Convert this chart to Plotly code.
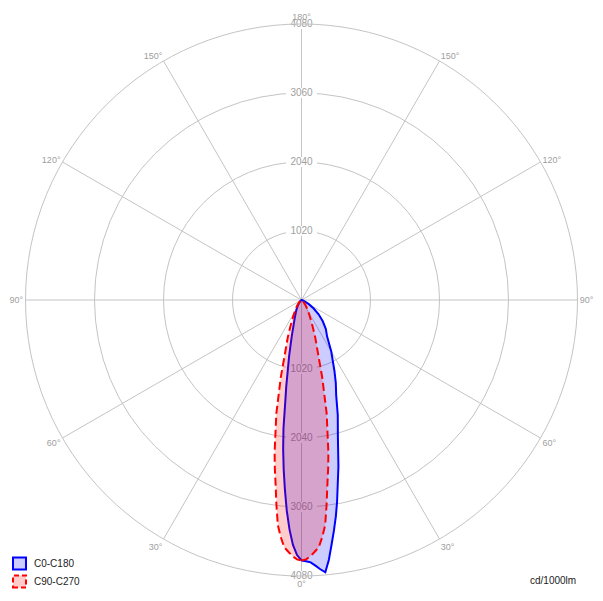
import plotly.graph_objects as go

# Gamma angles (degrees from nadir)
gamma = [0, 1, 2, 3, 4, 5, 6, 7, 8, 9, 10, 12.5, 15, 17.5, 20, 22.5, 25, 27.5, 30,
         35, 40, 45, 50, 55, 60, 65, 70, 75, 80, 85, 90]

# Luminous intensity, cd/1000lm
c0 = [3850, 3863, 3880, 3933, 3990, 4040, 3864, 3645, 3444, 3243, 3028, 2522, 2078, 1783,
      1500, 1325, 1150, 995, 880, 660, 560, 445, 330, 220, 130, 70, 30, 12, 5, 0, 0]
c180 = [3850, 3771, 3624, 3395, 3122, 2815, 2520, 2226, 1915, 1540, 1300, 842, 560, 390,
        300, 240, 195, 160, 130, 85, 50, 28, 12, 5, 0, 0, 0, 0, 0, 0, 0]
c90 = [3850, 3835, 3790, 3727, 3663, 3518, 3346, 3046, 2750, 2520, 2288, 1719, 1183, 790,
       600, 440, 330, 255, 200, 130, 85, 50, 25, 12, 5, 0, 0, 0, 0, 0, 0]
c270 = list(c90)

series_names = ["C0-C180", "C90-C270"]
radial_ticks = [1020, 2040, 3060, 4080]
angle_ticks = [0, 30, 60, 90, 120, 150, 180, 210, 240, 270, 300, 330]
angle_labels = ["0°", "30°", "60°", "90°", "120°", "150°", "180°",
                "150°", "120°", "90°", "60°", "30°"]

GRID = "#c4c4c4"
LABEL = "#a0a0a0"
FONT = "Liberation Sans"
BLUE, BLUE_FILL = "#0000ff", "rgba(0,0,255,0.2)"
RED, RED_FILL = "#ff0000", "rgba(255,0,0,0.2)"

OFF = 8  # page body margin of the browser
W, H = 603, 601
ML, MT = 25 - OFF, 23.5 - OFF
PW, PH = 553, 553
MR, MB = W - ML - PW, H - MT - PH


def px2paper(x, y):
    """screen pixel -> paper coordinates"""
    return (x - OFF - ML) / PW, (MT + PH - (y - OFF)) / PH


fig = go.Figure()

# radial value labels (behind the data fills), with white background boxes
lab_r = radial_ticks + radial_ticks
lab_t = [180] * len(radial_ticks) + [0] * len(radial_ticks)
fig.add_trace(go.Scatterpolar(
    r=lab_r, theta=lab_t, mode="markers+text",
    text=[str(v) for v in lab_r], textposition="middle center",
    textfont=dict(family=FONT, size=10, color=LABEL),
    marker=dict(symbol="line-ew", size=22, color="white",
                line=dict(width=10, color="white")),
    showlegend=False, hoverinfo="skip", cliponaxis=False,
))

theta_blue = gamma + [360 - g for g in reversed(gamma)]
r_blue = c0 + list(reversed(c180))
theta_red = gamma + [360 - g for g in reversed(gamma)]
r_red = c90 + list(reversed(c270))

fig.add_trace(go.Scatterpolar(
    r=r_blue, theta=theta_blue, mode="lines", fill="toself",
    name=series_names[0], showlegend=False,
    line=dict(color=BLUE, width=2), fillcolor=BLUE_FILL,
))
fig.add_trace(go.Scatterpolar(
    r=r_red, theta=theta_red, mode="lines", fill="toself",
    name=series_names[1], showlegend=False,
    line=dict(color=RED, width=2, dash="8px,4px"), fillcolor=RED_FILL,
))

# legend drawn as boxes + labels (bottom-left)
shapes = []
annotations = []
legend_items = [(series_names[0], BLUE, BLUE_FILL, "solid", 564),
                (series_names[1], RED, RED_FILL, "5px,3px", 582)]
for name, lc, fc, dash, yc in legend_items:
    x0, y0 = px2paper(13, yc + 6)
    x1, y1 = px2paper(26, yc - 6)
    shapes.append(dict(type="rect", xref="paper", yref="paper",
                       x0=x0, y0=y0, x1=x1, y1=y1,
                       line=dict(color=lc, width=2, dash=dash),
                       fillcolor=fc))
    tx, ty = px2paper(32, yc)
    annotations.append(dict(text=name, xref="paper", yref="paper", x=tx, y=ty,
                            xanchor="left", yanchor="middle", showarrow=False,
                            font=dict(family=FONT, size=10, color="#222222")))

ux, uy = px2paper(578, 581)
annotations.append(dict(text="cd/1000lm", xref="paper", yref="paper",
                        x=ux, y=uy, xanchor="right", yanchor="middle",
                        showarrow=False, font=dict(family=FONT, size=10, color="#222222")))

fig.update_layout(
    width=W, height=H,
    margin=dict(l=ML, r=MR, t=MT, b=MB, autoexpand=False),
    paper_bgcolor="white",
    showlegend=False,
    font=dict(family=FONT, size=10, color="#222222"),
    polar=dict(
        bgcolor="white",
        angularaxis=dict(
            rotation=270, direction="counterclockwise",
            tickvals=angle_ticks, ticktext=angle_labels,
            tickfont=dict(family=FONT, size=9, color=LABEL),
            ticks="", showline=True, linecolor=GRID, linewidth=1,
            gridcolor=GRID, gridwidth=1, showgrid=True,
        ),
        radialaxis=dict(
            range=[0, 4080], tickvals=radial_ticks,
            showticklabels=False, ticks="", showline=False,
            gridcolor=GRID, gridwidth=1,
        ),
    ),
    shapes=shapes,
    annotations=annotations,
)

fig.write_html("out.html")
